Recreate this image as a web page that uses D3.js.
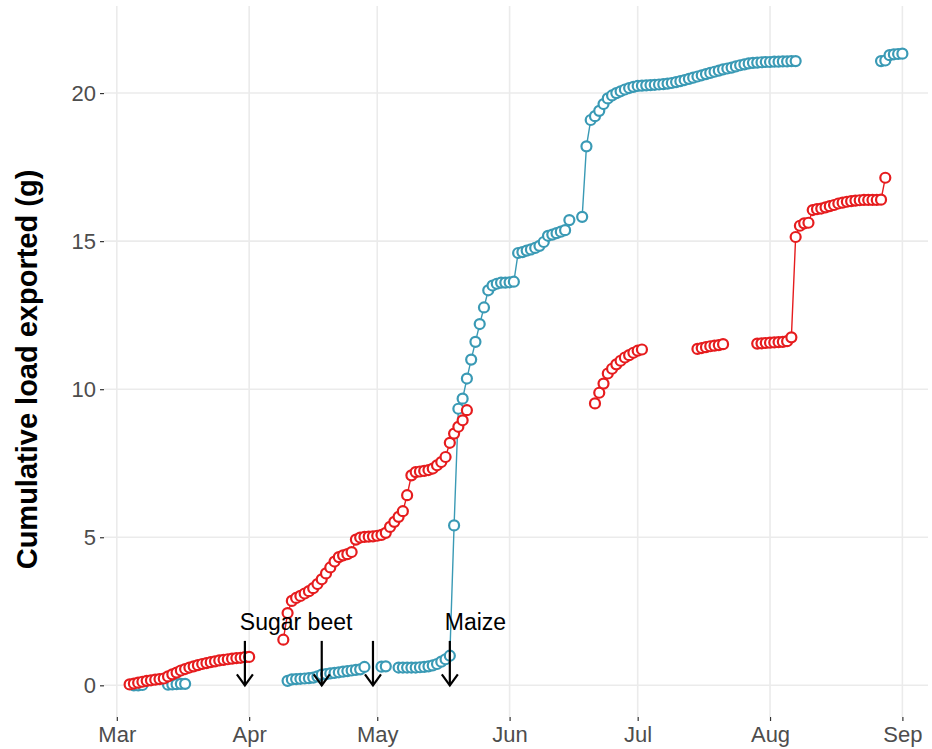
<!DOCTYPE html>
<html><head><meta charset="utf-8">
<script src="https://cdn.jsdelivr.net/npm/d3@7"></script>
<style>body{margin:0;background:#fff}svg{display:block}text{font-family:"Liberation Sans",Arial,sans-serif}</style>
</head><body><svg id="c" width="932" height="749"></svg>
<script>
// ---- data ----
const redStarts = ["2013-03-04","2013-04-09","2013-06-21","2013-07-15","2013-07-29"];
const red1 = [0.03,0.06,0.09,0.12,0.15,0.17,0.19,0.21,0.23,0.3,0.37,0.43,0.5,0.55,0.6,0.64,0.68,0.72,0.75,0.78,0.81,0.84,0.86,0.88,0.9,0.92,0.93,0.95,0.96];
const red2 = [1.54,2.44,2.85,2.95,3.02,3.1,3.18,3.28,3.42,3.58,3.78,3.98,4.18,4.33,4.39,4.43,4.5,4.92,4.99,5.01,5.02,5.03,5.05,5.08,5.15,5.35,5.52,5.69,5.88,6.42,7.09,7.2,7.22,7.24,7.27,7.32,7.43,7.54,7.71,8.19,8.5,8.73,8.95,9.29];
const red3 = [9.52,9.88,10.19,10.53,10.69,10.84,10.96,11.07,11.15,11.23,11.3,11.34];
const red4 = [11.36,11.39,11.42,11.45,11.47,11.49,11.52];
const red5 = [11.54,11.55,11.56,11.57,11.58,11.59,11.6,11.62,11.75,15.14,15.52,15.6,15.62,16.05,16.08,16.1,16.14,16.18,16.22,16.27,16.3,16.33,16.35,16.37,16.38,16.39,16.39,16.39,16.39,16.4,17.14];
const redValues = [red1,red2,red3,red4,red5];

const blueStarts = ["2013-03-05","2013-03-13","2013-04-10","2013-05-02","2013-05-06","2013-06-18","2013-08-27"];
const blue1 = [0.0,0.0,0.01];
const blue2 = [0.02,0.03,0.04,0.05,0.05];
const blue3 = [0.15,0.2,0.21,0.22,0.23,0.24,0.26,0.3,0.36,0.38,0.4,0.42,0.44,0.46,0.48,0.5,0.52,0.54,0.62];
const blue4 = [0.63,0.64];
const blue5 = [0.6,0.6,0.6,0.6,0.6,0.61,0.62,0.64,0.67,0.72,0.8,0.88,1.0,5.4,9.34,9.68,10.36,11.0,11.6,12.2,12.76,13.34,13.5,13.56,13.6,13.6,13.61,13.63,14.6,14.63,14.68,14.72,14.77,14.84,14.97,15.18,15.22,15.27,15.32,15.37,15.71];
const blue6 = [15.82,18.2,19.09,19.22,19.4,19.63,19.82,19.92,20.0,20.06,20.12,20.17,20.21,20.24,20.25,20.26,20.27,20.28,20.29,20.3,20.32,20.34,20.37,20.4,20.44,20.48,20.52,20.56,20.6,20.64,20.68,20.72,20.76,20.8,20.83,20.86,20.9,20.94,20.97,21.0,21.02,21.03,21.04,21.05,21.05,21.06,21.06,21.07,21.07,21.08,21.08];
const blue7 = [21.08,21.1,21.28,21.31,21.32,21.33];
const blueValues = [blue1,blue2,blue3,blue4,blue5,blue6,blue7];

const arrowDates = ["2013-03-31","2013-04-18","2013-04-30","2013-05-18"];
const arrowTop = 1.5;
const labelTexts = ["Sugar beet","Maize"];
const labelDates = ["2013-04-12","2013-05-24"];
const labelY = 2.15;

const xTickDates = ["2013-03-01","2013-04-01","2013-05-01","2013-06-01","2013-07-01","2013-08-01","2013-09-01"];
const yTicks = [0,5,10,15,20];
const xDomain = ["2013-02-26","2013-09-07"];
const yDomain = [-1.07, 22.4];

const colRed = "#E61C1E", colBlue = "#3A9AB5";

// ---- build ----
const parse = d3.utcParse("%Y-%m-%d");
const day = 864e5;
function segs(starts, vals){
  return starts.map((s,i)=>{const t0=parse(s);return vals[i].map((v,j)=>({date:new Date(+t0+j*day),value:v}));});
}
const redSegs = segs(redStarts, redValues), blueSegs = segs(blueStarts, blueValues);

const svg = d3.select("#c");
const M = {left:104, right:4, top:22, bottom:32};
const W = 932, H = 749;
const x = d3.scaleUtc().domain(xDomain.map(parse)).range([M.left, W-M.right]);
const y = d3.scaleLinear().domain(yDomain).range([H-M.bottom, M.top]);

// grid
const g = svg.append("g");
g.selectAll(".vg").data(xTickDates.map(parse)).join("line")
  .attr("x1",d=>x(d)).attr("x2",d=>x(d)).attr("y1",M.top-16).attr("y2",H-M.bottom)
  .attr("stroke","#ebebeb").attr("stroke-width",1.6);
g.selectAll(".hg").data(yTicks).join("line")
  .attr("x1",M.left).attr("x2",W-M.right).attr("y1",d=>y(d)).attr("y2",d=>y(d))
  .attr("stroke","#ebebeb").attr("stroke-width",1.6);

// axes
const xa = svg.append("g").attr("transform",`translate(0,${H-M.bottom})`)
  .call(d3.axisBottom(x).tickValues(xTickDates.map(parse)).tickFormat(d3.utcFormat("%b")).tickSize(4).tickPadding(5));
const ya = svg.append("g").attr("transform",`translate(${M.left},0)`)
  .call(d3.axisLeft(y).tickValues(yTicks).tickSize(4).tickPadding(4));
[xa,ya].forEach(a=>{a.select(".domain").remove();a.selectAll(".tick line").attr("stroke","#333").attr("stroke-width",1.2);
  a.selectAll(".tick text").attr("fill","#4d4d4d").style("font-size","22px");});

svg.append("text").attr("transform",`translate(37,${(M.top+H-M.bottom)/2}) rotate(-90)`)
  .attr("text-anchor","middle").style("font-size","29px").style("font-weight","bold").attr("fill","#000")
  .text("Cumulative load exported (g)");

// lines
const line = d3.line().x(d=>x(d.date)).y(d=>y(d.value));
[[blueSegs,colBlue],[redSegs,colRed]].forEach(([S,c])=>{
  svg.append("g").selectAll("path").data(S).join("path").attr("d",line)
    .attr("fill","none").attr("stroke",c).attr("stroke-width",1.4);
});
[[blueSegs,colBlue],[redSegs,colRed]].forEach(([S,c])=>{
  svg.append("g").selectAll("circle").data(S.flat()).join("circle")
    .attr("cx",d=>x(d.date)).attr("cy",d=>y(d.value)).attr("r",5)
    .attr("fill","#fff").attr("stroke",c).attr("stroke-width",2.2);
});

// annotations
const ag = svg.append("g").attr("stroke","#000").attr("stroke-width",2.2).attr("fill","none");
arrowDates.map(parse).forEach(d=>{
  const ax = x(d), y0 = y(arrowTop), y1 = y(0);
  ag.append("line").attr("x1",ax).attr("x2",ax).attr("y1",y0).attr("y2",y1);
  ag.append("path").attr("d",`M${ax-8},${y1-11}L${ax},${y1}L${ax+8},${y1-11}`);
});
svg.append("g").selectAll("text").data(labelTexts).join("text")
  .attr("x",(d,i)=>x(parse(labelDates[i]))).attr("y",y(labelY))
  .attr("text-anchor","middle").attr("dominant-baseline","central")
  .style("font-size","23px").attr("fill","#000").text(d=>d);
</script></body></html>
